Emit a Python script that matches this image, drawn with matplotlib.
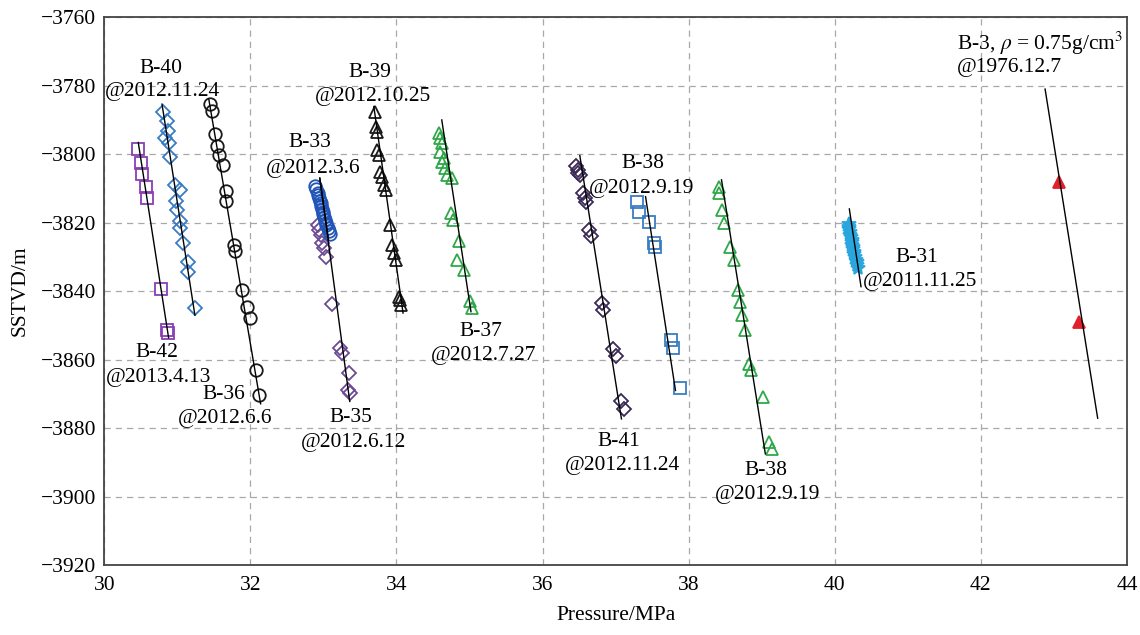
import matplotlib
matplotlib.use("Agg")
import matplotlib.pyplot as plt

plt.rcParams['font.family'] = ['Liberation Serif', 'DejaVu Serif']
plt.rcParams['mathtext.fontset'] = 'stix'
plt.rcParams['axes.unicode_minus'] = True

# ---- measured points (pressure MPa, SSTVD m) ----
b42_p = [30.465, 30.50, 30.52, 30.57, 30.59, 30.78, 30.86, 30.87]
b42_d = [-3798.6, -3802.5, -3805.9, -3809.6, -3812.8, -3839.5, -3851.4, -3852.1]

b40_p = [30.81, 30.86, 30.875, 30.83, 30.88, 30.90, 30.97, 31.03, 30.98, 30.99,
         31.04, 31.04, 31.08, 31.14, 31.14, 31.24]
b40_d = [-3787.8, -3790.3, -3793.2, -3795.4, -3796.6, -3800.7, -3808.9, -3810.6,
         -3813.7, -3816.2, -3819.6, -3821.6, -3826.0, -3831.6, -3834.3, -3845.0]

b36_p = [31.45, 31.47, 31.52, 31.54, 31.57, 31.62, 31.67, 31.67, 31.77, 31.79,
         31.88, 31.95, 32.00, 32.08, 32.12]
b36_d = [-3785.4, -3787.5, -3794.0, -3797.6, -3800.3, -3803.2, -3810.8, -3813.7,
         -3826.5, -3828.2, -3839.7, -3844.7, -3847.8, -3862.9, -3870.2]

b33_p = [32.88, 32.90, 32.92, 32.93, 32.94, 32.95, 32.96, 32.97, 32.98, 32.99,
         33.00, 33.01, 33.02, 33.03, 33.04, 33.06, 33.08, 33.09]
b33_d = [-3809.2, -3810.3, -3811.2, -3812.0, -3812.8, -3813.6, -3814.4, -3815.2,
         -3816.0, -3816.8, -3817.6, -3818.4, -3819.2, -3820.0, -3820.8, -3821.6,
         -3822.4, -3823.2]

b35_p = [32.92, 32.94, 32.96, 32.98, 33.01, 33.03, 33.12, 33.23, 33.26, 33.35,
         33.33, 33.37]
b35_d = [-3820.7, -3822.1, -3823.6, -3826.0, -3827.5, -3829.9, -3843.7, -3856.7,
         -3858.1, -3864.0, -3868.8, -3869.8]

b39_p = [33.70, 33.72, 33.74, 33.74, 33.76, 33.77, 33.80, 33.83, 33.85, 33.91,
         33.94, 33.96, 33.99, 34.03, 34.05, 34.06]
b39_d = [-3787.8, -3792.0, -3793.4, -3798.8, -3800.2, -3805.1, -3806.6, -3809.0,
         -3810.4, -3820.7, -3826.5, -3828.9, -3830.9, -3841.6, -3842.5, -3844.0]

b37_p = [34.58, 34.60, 34.62, 34.60, 34.65, 34.62, 34.67, 34.69, 34.76, 34.74,
         34.78, 34.85, 34.83, 34.92, 35.01, 35.03]
b37_d = [-3793.9, -3795.4, -3796.8, -3799.3, -3801.2, -3802.2, -3804.1, -3806.1,
         -3807.0, -3817.3, -3819.2, -3825.5, -3830.9, -3833.8, -3843.0, -3845.0]

b41_p = [36.46, 36.48, 36.49, 36.51, 36.56, 36.58, 36.60, 36.64, 36.66, 36.81,
         36.83, 36.96, 37.01, 37.08, 37.11]
b41_d = [-3803.6, -3804.6, -3805.6, -3806.0, -3811.4, -3812.9, -3813.9, -3822.1,
         -3823.8, -3843.6, -3845.6, -3856.8, -3858.9, -3872.2, -3874.3]

b38a_p = [37.29, 37.32, 37.46, 37.53, 37.54, 37.76, 37.79, 37.88]
b38a_d = [-3814.0, -3816.8, -3819.7, -3825.9, -3827.0, -3854.3, -3856.6, -3868.3]

b38b_p = [38.41, 38.42, 38.45, 38.48, 38.57, 38.62, 38.68, 38.70, 38.73, 38.77,
          38.82, 38.86, 39.02, 39.10, 39.14]
b38b_d = [-3809.5, -3811.4, -3816.3, -3820.2, -3827.0, -3830.9, -3839.7, -3843.1,
          -3847.0, -3851.4, -3861.2, -3863.1, -3870.9, -3884.1, -3886.0]

b31_p = [40.19, 40.195, 40.20, 40.21, 40.215, 40.22, 40.23, 40.235, 40.24, 40.25,
         40.255, 40.26, 40.27, 40.28, 40.29, 40.30, 40.31, 40.32]
b31_d = [-3820.5, -3821.3, -3822.0, -3822.8, -3823.5, -3824.2, -3825.0, -3825.7,
         -3826.4, -3827.1, -3827.8, -3828.5, -3829.2, -3830.0, -3830.8, -3831.6,
         -3832.4, -3833.2]

b3_p = [43.07, 43.35]
b3_d = [-3808.0, -3849.1]

# ---- fitted gradient lines (end points) ----
fit_b42 = ([30.465, 30.88], [-3796.6, -3853.6])
fit_b40 = ([30.79, 31.24], [-3785.4, -3847.0])
fit_b36 = ([31.43, 32.14], [-3783.9, -3872.9])
fit_b33 = ([32.95, 33.07], [-3807.0, -3825.0])
fit_b35 = ([32.95, 33.36], [-3807.0, -3872.2])
fit_b39 = ([33.69, 34.09], [-3786.1, -3846.4])
fit_b37 = ([34.62, 35.02], [-3790.0, -3846.0])
fit_b41 = ([36.51, 37.08], [-3800.4, -3877.3])
fit_b38a = ([37.41, 37.82], [-3812.4, -3869.0])
fit_b38b = ([38.45, 39.05], [-3807.5, -3887.5])
fit_b31 = ([40.20, 40.36], [-3816.0, -3838.7])
fit_b3 = ([42.88, 43.60], [-3781.0, -3877.1])

# ---- labels: (pressure, depth, text) ----
well_names = ["B-40", "B-42", "B-36", "B-33", "B-39", "B-35", "B-37",
              "B-38", "B-41", "B-38", "B-31"]
well_dates = ["@2012.11.24", "@2013.4.13", "@2012.6.6", "@2012.3.6",
              "@2012.10.25", "@2012.6.12", "@2012.7.27", "@2012.9.19",
              "@2012.11.24", "@2012.9.19", "@2011.11.25"]
name_xy = [(30.77, -3775.0), (30.72, -3857.8), (31.63, -3870.3), (32.82, -3796.6),
           (33.64, -3776.2), (33.37, -3877.0), (35.15, -3851.8), (37.37, -3802.6),
           (37.04, -3884.0), (39.06, -3892.3), (41.13, -3830.3)]
date_xy = [(30.80, -3781.8), (30.74, -3865.1), (31.65, -3877.2), (32.86, -3804.3),
           (33.68, -3783.2), (33.41, -3884.1), (35.19, -3858.9), (37.36, -3810.0),
           (37.10, -3890.9), (39.08, -3899.3), (41.17, -3837.2)]

fig = plt.figure(figsize=(11.4, 6.35), dpi=100)
ax = fig.add_axes([0.0915, 0.110, 0.897, 0.863])

ms = 9
mew = 1.3
series = [
    (b42_p, b42_d, 's', '#8a3fb4', 'none', ms - 0.5),
    (b40_p, b40_d, 'D', '#3a7cc2', 'none', ms - 2),
    (b36_p, b36_d, 'o', '#1a1a1a', 'none', ms),
    (b35_p, b35_d, 'D', '#6c4b96', 'none', ms - 2),
    (b33_p, b33_d, 'o', '#2156b8', 'none', ms),
    (b39_p, b39_d, '^', '#1a1a1a', 'none', ms),
    (b37_p, b37_d, '^', '#2fa84a', 'none', ms),
    (b41_p, b41_d, 'D', '#3a2a55', 'none', ms - 2),
    (b38a_p, b38a_d, 's', '#3a7cc2', 'none', ms - 0.5),
    (b38b_p, b38b_d, '^', '#2fa84a', 'none', ms),
    (b31_p, b31_d, '*', '#2aa6de', '#2aa6de', 10),
    (b3_p, b3_d, '^', '#e0202c', '#e0202c', ms),
]
for p, d, mk, ec, fc, size in series:
    ax.plot(p, d, linestyle='none', marker=mk, markersize=size,
            markeredgecolor=ec, markerfacecolor=fc, markeredgewidth=mew, zorder=3)

for fp, fd in [fit_b42, fit_b40, fit_b36, fit_b33, fit_b35, fit_b39, fit_b37,
               fit_b41, fit_b38a, fit_b38b, fit_b31, fit_b3]:
    ax.plot(fp, fd, color='black', linewidth=1.0, zorder=4)

fs = 15.5
for name, (x, y) in zip(well_names, name_xy):
    ax.text(x, y, name, ha='center', va='center', fontsize=fs, zorder=5)
for date, (x, y) in zip(well_dates, date_xy):
    ax.text(x, y, date, ha='center', va='center', fontsize=fs, zorder=5)

ax.text(41.67, -3767.8, r"B-3, $\rho$ = 0.75g/cm$^3$", ha='left', va='center',
        fontsize=fs, zorder=5)
ax.text(41.67, -3774.8, "@1976.12.7", ha='left', va='center', fontsize=fs, zorder=5)

ax.set_xlim(30, 44)
ax.set_ylim(-3920, -3760)
ax.set_xticks(range(30, 45, 2))
ax.set_yticks(range(-3920, -3759, 20))
ax.grid(True, linestyle=(0, (5, 4)), color='#a8a8a8', linewidth=0.9)
ax.tick_params(axis='y', length=0, labelsize=fs, pad=6)
ax.tick_params(axis='x', length=0, labelsize=fs, pad=8)
for s in ax.spines.values():
    s.set_color('#444444')
    s.set_linewidth(1.3)

ax.set_xlabel("Pressure/MPa", fontsize=fs, labelpad=8)
ax.set_ylabel("SSTVD/m", fontsize=fs, labelpad=8)

fig.savefig("out.png", dpi=100)
